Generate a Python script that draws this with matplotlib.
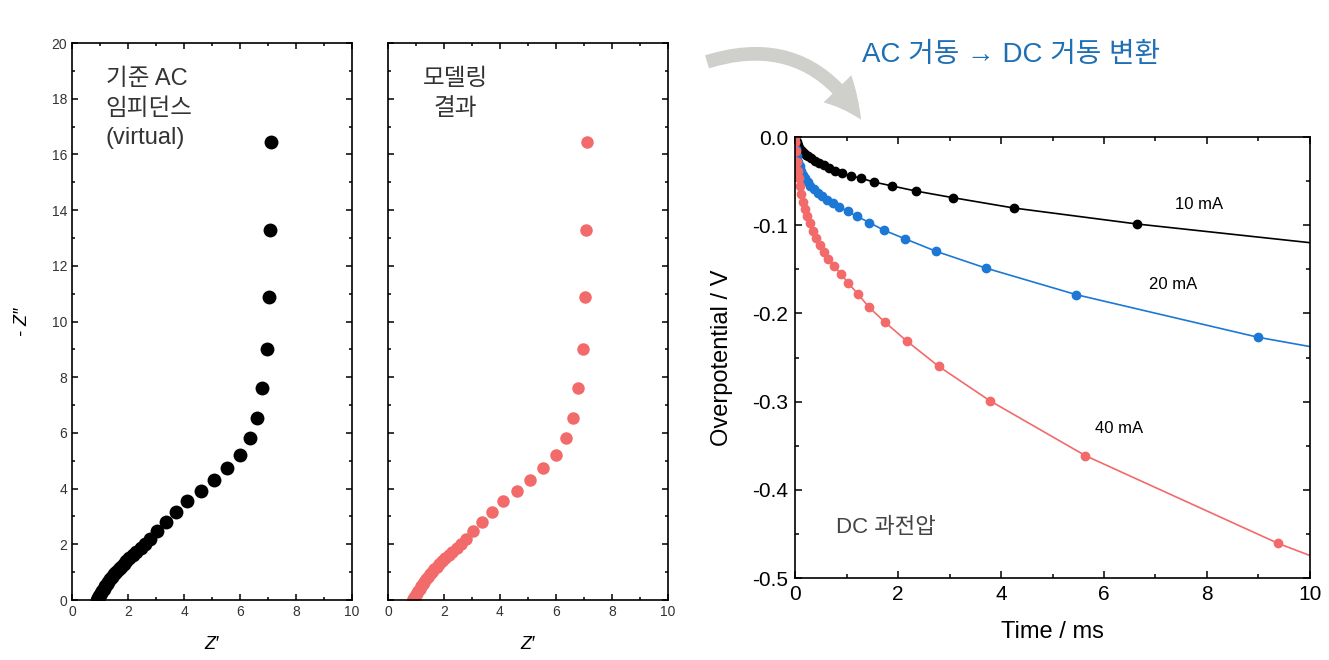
import matplotlib
matplotlib.use("Agg")
import matplotlib.pyplot as plt
from matplotlib.patches import FancyArrowPatch
from matplotlib.ticker import MultipleLocator

plt.rcParams.update({
    "font.family": ["Liberation Sans", "DejaVu Sans"],
    "xtick.direction": "in",
    "ytick.direction": "in",
    "xtick.top": True,
    "ytick.right": True,
    "axes.linewidth": 1.2,
})
KR = ["Liberation Sans", "Noto Sans CJK KR", "DejaVu Sans"]

# Nyquist data (reference AC impedance, virtual)
z_re = [7.12, 7.07, 7.03, 6.95, 6.8, 6.6, 6.35, 6.0, 5.55, 5.07, 4.6, 4.12, 3.72, 3.37,
        3.05, 2.8, 2.6, 2.45, 2.3, 2.17, 2.05, 1.94, 1.84, 1.75, 1.66, 1.58, 1.5, 1.43,
        1.36, 1.3, 1.24, 1.18, 1.13, 1.08, 1.03, 0.99, 0.96, 0.93, 0.91, 0.9]
z_im = [16.45, 13.28, 10.88, 9.0, 7.6, 6.55, 5.8, 5.2, 4.75, 4.32, 3.92, 3.55, 3.15, 2.8,
        2.47, 2.2, 2.0, 1.86, 1.74, 1.62, 1.5, 1.4, 1.3, 1.2, 1.1, 1.01, 0.92, 0.83,
        0.74, 0.65, 0.57, 0.49, 0.41, 0.33, 0.26, 0.19, 0.13, 0.08, 0.04, 0.01]

# modelling result
zm_re = z_re
zm_im = z_im

# DC overpotential
t_10 = [0, 0.01, 0.03, 0.05, 0.07, 0.10, 0.13, 0.17, 0.21, 0.26, 0.32, 0.39, 0.47, 0.56,
        0.66, 0.78, 0.92, 1.08, 1.28, 1.53, 1.88, 2.35, 3.06, 4.25, 6.64]
v_10 = [0, -0.003, -0.006, -0.009, -0.012, -0.014, -0.016, -0.018, -0.020, -0.022, -0.024,
        -0.027, -0.029, -0.032, -0.035, -0.038, -0.041, -0.044, -0.0467, -0.051, -0.0554,
        -0.0613, -0.0687, -0.0805, -0.0986]
t_20 = [0, 0.005, 0.02, 0.04, 0.06, 0.09, 0.12, 0.16, 0.20, 0.25, 0.30, 0.37, 0.44, 0.52,
        0.62, 0.73, 0.86, 1.02, 1.21, 1.44, 1.73, 2.14, 2.74, 3.70, 5.46, 8.99]
v_20 = [0, -0.006, -0.014, -0.022, -0.028, -0.033, -0.038, -0.043, -0.047, -0.051, -0.055,
        -0.059, -0.063, -0.067, -0.071, -0.075, -0.079, -0.0844, -0.09, -0.097, -0.1057,
        -0.1155, -0.1296, -0.1485, -0.1787, -0.227]
t_40 = [0, 0.005, 0.015, 0.03, 0.05, 0.07, 0.09, 0.12, 0.16, 0.20, 0.24, 0.29, 0.35, 0.41,
        0.48, 0.56, 0.65, 0.76, 0.89, 1.03, 1.22, 1.44, 1.75, 2.17, 2.79, 3.78, 5.64, 9.38]
v_40 = [0, -0.006, -0.016, -0.028, -0.038, -0.047, -0.056, -0.065, -0.074, -0.082, -0.090,
        -0.098, -0.106, -0.114, -0.122, -0.130, -0.138, -0.1465, -0.1551, -0.1654, -0.1779,
        -0.1932, -0.2101, -0.2313, -0.26, -0.2989, -0.3613, -0.4607]
# line values at t = 10 ms
t_end = 10
v_end = {"10": -0.1198, "20": -0.2376, "40": -0.4745}

RED = "#f26a6a"
BLUE = "#1c78d4"

fig = plt.figure(figsize=(13.29, 6.6), dpi=100)

def nyquist_axes(rect, show_y):
    ax = fig.add_axes(rect)
    ax.set_xlim(0, 10)
    ax.set_ylim(0, 20)
    ax.xaxis.set_major_locator(MultipleLocator(2))
    ax.xaxis.set_minor_locator(MultipleLocator(1))
    ax.yaxis.set_major_locator(MultipleLocator(2))
    ax.yaxis.set_minor_locator(MultipleLocator(1))
    ax.tick_params(which="both", top=True, right=True, labelsize=10,
                   labelcolor="#333333", width=1.1)
    ax.tick_params(which="major", length=4)
    ax.tick_params(which="minor", length=2.5)
    if not show_y:
        ax.set_yticklabels([])
    ax.set_xlabel("Z\u2032", fontsize=13, fontstyle="italic", labelpad=12)
    return ax

ax1 = nyquist_axes([0.0542, 0.0909, 0.2107, 0.8439], True)
ax1.plot(z_re, z_im, "o", color="black", ms=10, mec="none")
ax1.set_ylabel("- Z\u2033", fontsize=13, fontstyle="italic", labelpad=15)
ax1.text(0.12, 0.955, "기준 AC\n임피던스\n(virtual)", transform=ax1.transAxes,
         ha="left", va="top", fontsize=17, color="#333333", family=KR, linespacing=1.45)

ax2 = nyquist_axes([0.2919, 0.0909, 0.2107, 0.8439], False)
ax2.plot(zm_re, zm_im, "o", color=RED, ms=9, mec="none")
ax2.text(0.24, 0.955, "모델링\n결과", transform=ax2.transAxes,
         ha="center", va="top", fontsize=17, color="#333333", family=KR, linespacing=1.45)

ax3 = fig.add_axes([0.5982, 0.1242, 0.3875, 0.6682])
ax3.plot(t_10 + [t_end], v_10 + [v_end["10"]], "-", color="black", lw=1.2)
ax3.plot(t_10, v_10, "o", color="black", ms=6)
ax3.plot(t_20 + [t_end], v_20 + [v_end["20"]], "-", color=BLUE, lw=1.2)
ax3.plot(t_20, v_20, "o", color=BLUE, ms=6)
ax3.plot(t_40 + [t_end], v_40 + [v_end["40"]], "-", color=RED, lw=1.2)
ax3.plot(t_40, v_40, "o", color=RED, ms=6)
ax3.set_xlim(0, 10)
ax3.set_ylim(-0.5, 0)
ax3.xaxis.set_major_locator(MultipleLocator(2))
ax3.xaxis.set_minor_locator(MultipleLocator(1))
ax3.yaxis.set_major_locator(MultipleLocator(0.1))
ax3.yaxis.set_minor_locator(MultipleLocator(0.05))
ax3.yaxis.set_major_formatter(lambda v, p: "0.0" if abs(v) < 1e-9 else f"{v:.1f}")
ax3.tick_params(which="both", top=True, right=True, labelsize=15, width=1.1, pad=5)
ax3.tick_params(which="major", length=5)
ax3.tick_params(which="minor", length=3)
ax3.set_xlabel("Time / ms", fontsize=17, labelpad=12)
ax3.set_ylabel("Overpotential / V", fontsize=17, labelpad=14)
ax3.text(7.85, -0.077, "10 mA", fontsize=12, ha="center", va="center")
ax3.text(7.35, -0.167, "20 mA", fontsize=12, ha="center", va="center")
ax3.text(6.3, -0.330, "40 mA", fontsize=12, ha="center", va="center")
ax3.text(0.8, -0.443, "DC 과전압", fontsize=16, ha="left", va="center",
         color="#444444", family=KR)

fig.text(0.761, 0.917, "AC 거동 \u2192 DC 거동 변환", fontsize=20, color="#1f6fb5",
         ha="center", va="center", family=KR)

arrow = FancyArrowPatch((0.530, 0.905), (0.649, 0.815), transform=fig.transFigure,
                        connectionstyle="arc3,rad=-0.4",
                        arrowstyle="simple,head_width=2.0,head_length=2.0,tail_width=0.7",
                        mutation_scale=14, color="#cfcfcb", lw=0)
fig.patches.append(arrow)

fig.savefig("out.png", dpi=100)
